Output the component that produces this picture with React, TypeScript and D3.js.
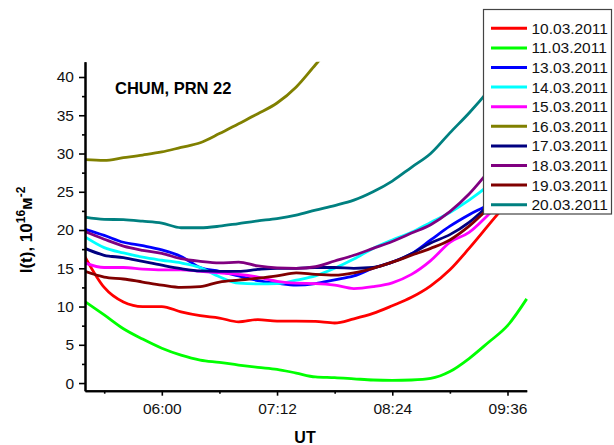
import React, { useRef, useEffect } from "react";
import * as d3 from "d3";

// time grid (UT), 12 min step
const times = [
  "05:12", "05:24", "05:36", "05:48", "06:00", "06:12", "06:24", "06:36",
  "06:48", "07:00", "07:12", "07:24", "07:36", "07:48", "08:00", "08:12",
  "08:24", "08:36", "08:48", "09:00", "09:12", "09:24", "09:36", "09:48",
];

const dates = [
  "10.03.2011", "11.03.2011", "13.03.2011", "14.03.2011", "15.03.2011",
  "16.03.2011", "17.03.2011", "18.03.2011", "19.03.2011", "20.03.2011",
];

const colors = [
  "#ff0000", "#00ff00", "#0000ff", "#00ffff", "#ff00ff",
  "#808000", "#000080", "#800080", "#800000", "#008080",
];

const tec1003 = [16.5, 12.5, 10.6, 10.0, 10.0, 9.3, 8.8, 8.5, 8.0, 8.3, 8.1, 8.1, 8.05, 7.85, 8.4, 9.1, 10.1, 11.2, 12.7, 14.8, 17.6, 20.6, 23.6, 26.5];
const tec1103 = [10.65, 8.9, 7.1, 5.75, 4.55, 3.65, 3.0, 2.7, 2.35, 2.05, 1.8, 1.3, 0.8, 0.7, 0.55, 0.4, 0.35, 0.4, 0.6, 1.5, 3.2, 5.3, 7.5, 11.0];
const tec1303 = [20.1, 19.3, 18.4, 17.95, 17.4, 16.55, 15.1, 14.6, 14.0, 13.4, 13.05, 12.8, 13.0, 13.5, 14.0, 15.0, 15.8, 16.9, 18.7, 20.5, 22.0, 23.3, 25.0, 27.0];
const tec1403 = [19.1, 17.7, 17.0, 16.45, 16.05, 15.7, 15.1, 13.9, 13.05, 12.95, 13.0, 13.45, 14.0, 15.0, 16.2, 17.6, 18.7, 19.7, 21.0, 22.3, 23.9, 25.8, 28.0, 30.0];
const tec1503 = [15.7, 15.1, 15.1, 14.9, 14.8, 14.8, 14.6, 14.4, 14.2, 13.85, 13.3, 13.05, 13.0, 12.8, 12.35, 12.6, 13.1, 14.2, 16.0, 18.4, 19.7, 22.0, 24.5, 27.0];
const tec1603 = [29.2, 29.1, 29.45, 29.8, 30.2, 30.8, 31.4, 32.6, 33.9, 35.2, 36.6, 38.7, 41.6, 44.5, null, null, null, null, null, null, null, null, null, null];
const tec1703 = [17.6, 16.7, 16.4, 15.9, 15.4, 14.95, 14.65, 14.6, 14.6, 14.85, 15.0, 15.0, 15.1, 15.1, 15.0, 15.1, 15.8, 16.9, 18.3, 19.4, 21.0, 23.2, 25.5, 28.0];
const tec1803 = [19.8, 18.8, 17.9, 17.35, 16.95, 16.25, 15.9, 15.7, 15.8, 15.3, 15.05, 15.0, 15.2, 15.95, 16.7, 17.6, 18.5, 19.6, 20.7, 22.4, 24.7, 27.6, 30.5, 33.5];
const tec1903 = [14.6, 13.85, 13.6, 13.2, 12.8, 12.5, 12.6, 13.2, 13.45, 13.7, 14.0, 14.4, 14.2, 14.1, 14.4, 15.0, 15.8, 16.7, 17.6, 18.7, 20.5, 22.8, 25.0, 27.5];
const tec2003 = [21.7, 21.4, 21.35, 21.15, 20.9, 20.3, 20.3, 20.5, 20.85, 21.2, 21.5, 21.95, 22.6, 23.2, 23.9, 25.0, 26.4, 28.2, 30.0, 32.7, 35.3, 38.2, 41.5, 44.5];

const seriesValues = [tec1003, tec1103, tec1303, tec1403, tec1503, tec1603, tec1703, tec1803, tec1903, tec2003];

const xDomain = ["05:12", "09:48"];
const xMajorTicks = ["06:00", "07:12", "08:24", "09:36"];
const xMinorTicks = ["05:24", "06:36", "07:48", "09:00"];
const yDomain = [-1, 42];
const yMajorTicks = [0, 5, 10, 15, 20, 25, 30, 35, 40];
const yMinorTicks = [2.5, 7.5, 12.5, 17.5, 22.5, 27.5, 32.5, 37.5];

const FONT = "'Liberation Sans', Arial, sans-serif";

const App = () => {
  const ref = useRef<SVGSVGElement>(null);

  useEffect(() => {
    const svg = d3.select(ref.current);
    svg.selectAll("*").remove();

    const left = 85, right = 526.7, top = 61.7, bottom = 390.7;
    const parse = d3.timeParse("%H:%M");

    const x = d3.scaleTime()
      .domain(xDomain.map((d) => parse(d) as Date))
      .range([left, right]);
    const y = d3.scaleLinear().domain(yDomain).range([bottom, top]);

    svg.append("defs").append("clipPath").attr("id", "plot-clip")
      .append("rect")
      .attr("x", left).attr("y", top)
      .attr("width", right - left + 2).attr("height", bottom - top);

    // lines
    const line = d3.line<{ t: Date; v: number | null }>()
      .defined((d) => d.v !== null)
      .x((d) => x(d.t))
      .y((d) => y(d.v as number))
      .curve(d3.curveMonotoneX);

    const lines = svg.append("g").attr("clip-path", "url(#plot-clip)");
    seriesValues.forEach((vals, i) => {
      const pts = times.map((t, j) => ({ t: parse(t) as Date, v: vals[j] }));
      lines.append("path")
        .attr("d", line(pts))
        .attr("fill", "none")
        .attr("stroke", colors[i])
        .attr("stroke-width", 2.8)
        .attr("stroke-linejoin", "round");
    });

    // axes
    const xAxis = svg.append("g").attr("transform", `translate(0,${bottom})`)
      .call(d3.axisBottom(x)
        .tickValues(xMajorTicks.map((d) => parse(d) as Date))
        .tickFormat(d3.timeFormat("%H:%M") as any)
        .tickSize(5).tickSizeOuter(0).tickPadding(7));
    svg.append("g").attr("transform", `translate(0,${bottom})`)
      .call(d3.axisBottom(x)
        .tickValues(xMinorTicks.map((d) => parse(d) as Date))
        .tickFormat(() => "")
        .tickSize(3).tickSizeOuter(0));

    const yAxis = svg.append("g").attr("transform", `translate(${left},0)`)
      .call(d3.axisLeft(y).tickValues(yMajorTicks)
        .tickSize(6).tickSizeOuter(0).tickPadding(5));
    svg.append("g").attr("transform", `translate(${left},0)`)
      .call(d3.axisLeft(y).tickValues(yMinorTicks).tickFormat(() => "")
        .tickSize(3).tickSizeOuter(0));

    svg.selectAll(".domain").attr("stroke", "#000").attr("stroke-width", 2);
    svg.selectAll(".tick line").attr("stroke", "#000").attr("stroke-width", 1.6);
    [xAxis, yAxis].forEach((a) =>
      a.selectAll("text")
        .style("font-family", FONT)
        .style("font-size", "15.5px")
        .attr("fill", "#111"));

    // axis titles
    svg.append("text")
      .attr("x", 305).attr("y", 443)
      .attr("text-anchor", "middle")
      .style("font-family", FONT).style("font-size", "16px").style("font-weight", "bold")
      .text("UT");

    const yl = svg.append("text")
      .attr("transform", "translate(32,230) rotate(-90)")
      .attr("text-anchor", "middle")
      .style("font-family", FONT).style("font-size", "17px").style("font-weight", "bold");
    yl.append("tspan").text("I(t), 10");
    yl.append("tspan").attr("dy", -7).style("font-size", "12px").text("16");
    yl.append("tspan").attr("dy", 7).text("м");
    yl.append("tspan").attr("dy", -7).style("font-size", "12px").text("-2");

    svg.append("text")
      .attr("x", 115).attr("y", 94)
      .style("font-family", FONT).style("font-size", "16.5px").style("font-weight", "bold")
      .text("CHUM, PRN 22");

    // legend
    const lg = svg.append("g");
    lg.append("rect")
      .attr("x", 483.5).attr("y", 9.5)
      .attr("width", 128).attr("height", 204.5)
      .attr("fill", "#fff").attr("stroke", "#444").attr("stroke-width", 1.2);
    dates.forEach((d, i) => {
      const cy = 28.3 + i * 19.6;
      lg.append("line")
        .attr("x1", 491).attr("x2", 527).attr("y1", cy).attr("y2", cy)
        .attr("stroke", colors[i]).attr("stroke-width", 3);
      lg.append("text")
        .attr("x", 531.5).attr("y", cy).attr("dy", "0.36em")
        .style("font-family", FONT).style("font-size", "15.5px")
        .attr("fill", "#111")
        .text(d);
    });
  }, []);

  return (
    <svg
      ref={ref}
      width={614}
      height={445}
      style={{ position: "absolute", left: 0, top: 0, background: "#fff" }}
    />
  );
};

export default App;
